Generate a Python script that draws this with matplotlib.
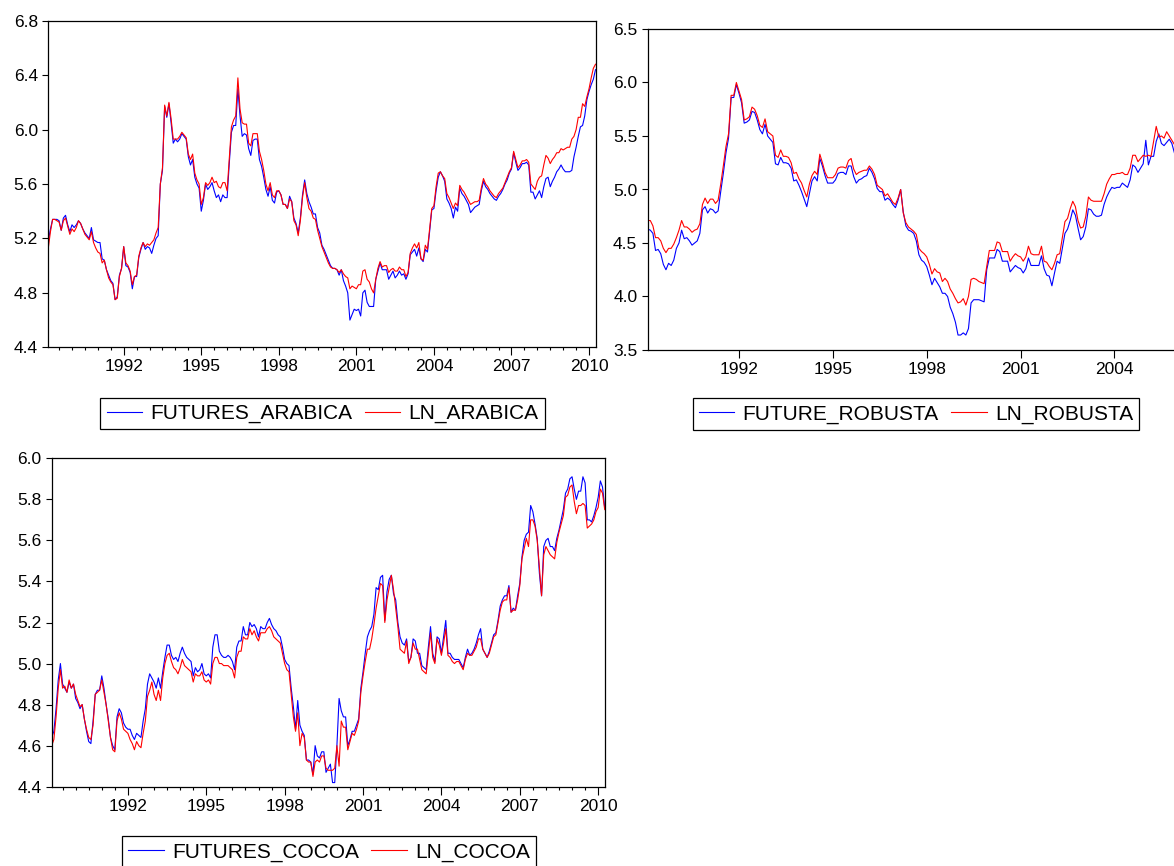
import numpy as np
import matplotlib
matplotlib.use("Agg")
import matplotlib.pyplot as plt
from matplotlib.ticker import MultipleLocator, FormatStrFormatter

plt.rcParams["font.family"] = ["Liberation Sans", "DejaVu Sans"]

# monthly observations, first one is 1989M02
START = 1989 + 1 / 12.0

futures_arabica = [
    5.18, 5.27, 5.34, 5.34, 5.34, 5.33, 5.26, 5.35, 5.37, 5.30, 5.25, 5.30,
    5.28, 5.30, 5.33, 5.31, 5.27, 5.24, 5.22, 5.20, 5.28, 5.19, 5.18, 5.17,
    5.17, 5.05, 5.04, 4.97, 4.93, 4.89, 4.87, 4.75, 4.77, 4.93, 4.98, 5.14,
    5.00, 4.99, 4.95, 4.83, 4.92, 4.92, 5.06, 5.12, 5.17, 5.12, 5.14, 5.13,
    5.09, 5.15, 5.20, 5.22, 5.60, 5.70, 6.17, 6.09, 6.19, 6.05, 5.90, 5.93,
    5.91, 5.93, 5.97, 5.95, 5.93, 5.80, 5.74, 5.78, 5.65, 5.60, 5.57, 5.40,
    5.48, 5.60, 5.56, 5.58, 5.61, 5.55, 5.50, 5.52, 5.47, 5.52, 5.50, 5.50,
    5.75, 5.98, 6.03, 6.03, 6.30, 6.10, 5.95, 5.97, 5.96, 5.86, 5.81, 5.92,
    5.93, 5.93, 5.78, 5.73, 5.65, 5.56, 5.51, 5.58, 5.48, 5.46, 5.54, 5.55,
    5.52, 5.45, 5.45, 5.42, 5.51, 5.47, 5.35, 5.31, 5.24, 5.35, 5.52, 5.63,
    5.53, 5.47, 5.43, 5.38, 5.38, 5.28, 5.24, 5.15, 5.12, 5.08, 5.04, 5.00,
    4.98, 4.98, 4.97, 4.93, 4.97, 4.89, 4.85, 4.80, 4.60, 4.64, 4.68, 4.67,
    4.68, 4.63, 4.80, 4.82, 4.73, 4.70, 4.70, 4.70, 4.90, 4.96, 5.02, 4.97,
    4.97, 4.97, 4.90, 4.93, 4.96, 4.91, 4.93, 4.96, 4.93, 4.94, 4.90, 4.94,
    5.08, 5.10, 5.12, 5.07, 5.13, 5.05, 5.03, 5.12, 5.10, 5.25, 5.41, 5.42,
    5.55, 5.65, 5.69, 5.66, 5.62, 5.49, 5.46, 5.42, 5.35, 5.43, 5.40, 5.57,
    5.53, 5.51, 5.48, 5.45, 5.39, 5.41, 5.43, 5.44, 5.45, 5.55, 5.62, 5.58,
    5.56, 5.53, 5.51, 5.49, 5.48, 5.51, 5.53, 5.56, 5.60, 5.63, 5.68, 5.71,
    5.83, 5.76, 5.70, 5.72, 5.75, 5.75, 5.76, 5.74, 5.54, 5.54, 5.49, 5.52,
    5.55, 5.50, 5.58, 5.64, 5.65, 5.58, 5.62, 5.65, 5.69, 5.71, 5.74, 5.71,
    5.69, 5.69, 5.69, 5.70, 5.80, 5.87, 5.95, 6.02, 6.03, 6.10, 6.22, 6.28,
    6.33, 6.37, 6.44,
]
ln_arabica = [
    5.13, 5.25, 5.34, 5.34, 5.33, 5.32, 5.26, 5.33, 5.35, 5.29, 5.23, 5.27,
    5.25, 5.28, 5.33, 5.31, 5.27, 5.23, 5.21, 5.19, 5.25, 5.17, 5.13, 5.10,
    5.09, 5.02, 5.04, 4.97, 4.91, 4.88, 4.86, 4.75, 4.76, 4.92, 4.98, 5.14,
    5.02, 5.00, 4.96, 4.86, 4.92, 4.93, 5.07, 5.13, 5.17, 5.14, 5.16, 5.15,
    5.17, 5.19, 5.24, 5.28, 5.60, 5.72, 6.18, 6.10, 6.20, 6.08, 5.93, 5.93,
    5.93, 5.95, 5.98, 5.96, 5.94, 5.82, 5.78, 5.82, 5.68, 5.63, 5.60, 5.45,
    5.50, 5.61, 5.59, 5.61, 5.65, 5.61, 5.62, 5.58, 5.57, 5.61, 5.61, 5.55,
    5.78, 6.02, 6.07, 6.10, 6.38, 6.15, 6.05, 6.04, 6.04, 5.90, 5.88, 5.97,
    5.97, 5.97, 5.84, 5.78, 5.70, 5.60, 5.55, 5.61, 5.52, 5.50, 5.55, 5.55,
    5.52, 5.45, 5.45, 5.42, 5.49, 5.47, 5.33, 5.30, 5.22, 5.33, 5.50, 5.61,
    5.50, 5.42, 5.40, 5.35, 5.34, 5.26, 5.20, 5.14, 5.10, 5.06, 5.02, 4.99,
    4.98, 4.98, 4.97, 4.95, 4.97, 4.94, 4.92, 4.91, 4.83, 4.85, 4.84, 4.83,
    4.86, 4.86, 4.96, 4.97, 4.90, 4.88, 4.83, 4.80, 4.90, 4.98, 5.03, 4.99,
    5.00, 5.00, 4.95, 4.97, 4.98, 4.96, 4.96, 4.99, 4.97, 4.97, 4.92, 4.95,
    5.09, 5.13, 5.16, 5.13, 5.17, 5.05, 5.04, 5.15, 5.12, 5.27, 5.42, 5.44,
    5.58, 5.68, 5.69, 5.66, 5.64, 5.53, 5.50, 5.46, 5.42, 5.46, 5.44, 5.59,
    5.56, 5.54, 5.51, 5.48, 5.45, 5.46, 5.47, 5.47, 5.48, 5.57, 5.64, 5.60,
    5.58, 5.55, 5.53, 5.51, 5.50, 5.53, 5.55, 5.57, 5.61, 5.65, 5.69, 5.72,
    5.84, 5.78, 5.72, 5.74, 5.77, 5.77, 5.78, 5.76, 5.60, 5.58, 5.56, 5.62,
    5.65, 5.66, 5.74, 5.81, 5.79, 5.75, 5.78, 5.80, 5.83, 5.83, 5.86, 5.85,
    5.86, 5.87, 5.87, 5.93, 5.95, 6.00, 6.09, 6.09, 6.19, 6.17, 6.24, 6.30,
    6.38, 6.45, 6.48,
]

future_robusta = [
    4.63, 4.62, 4.59, 4.43, 4.44, 4.40, 4.30, 4.25, 4.31, 4.29, 4.34, 4.45,
    4.50, 4.62, 4.54, 4.55, 4.52, 4.48, 4.50, 4.52, 4.59, 4.81, 4.84, 4.78,
    4.82, 4.81, 4.78, 4.80, 4.98, 5.15, 5.34, 5.48, 5.86, 5.86, 5.98, 5.90,
    5.81, 5.62, 5.63, 5.65, 5.73, 5.72, 5.65, 5.56, 5.52, 5.61, 5.50, 5.47,
    5.44, 5.24, 5.23, 5.30, 5.25, 5.25, 5.24, 5.20, 5.08, 5.09, 5.04, 4.98,
    4.91, 4.84, 4.96, 5.08, 5.12, 5.08, 5.29, 5.22, 5.13, 5.06, 5.06, 5.06,
    5.09, 5.15, 5.16, 5.16, 5.14, 5.22, 5.22, 5.12, 5.06, 5.09, 5.10, 5.12,
    5.13, 5.20, 5.16, 5.10, 5.01, 4.98, 4.98, 4.90, 4.92, 4.90, 4.86, 4.83,
    4.90, 5.00, 4.79, 4.66, 4.62, 4.61, 4.59, 4.52, 4.39, 4.34, 4.32, 4.28,
    4.20, 4.11, 4.17, 4.13, 4.09, 4.03, 4.03, 4.00, 3.90, 3.84, 3.76, 3.64,
    3.64, 3.66, 3.64, 3.70, 3.94, 3.97, 3.97, 3.97, 3.96, 3.95, 4.25, 4.36,
    4.36, 4.36, 4.44, 4.42, 4.33, 4.33, 4.33, 4.23, 4.26, 4.29, 4.27, 4.26,
    4.22, 4.26, 4.36, 4.29, 4.29, 4.29, 4.29, 4.38, 4.26, 4.20, 4.19, 4.10,
    4.22, 4.33, 4.31, 4.45, 4.59, 4.63, 4.71, 4.81, 4.76, 4.64, 4.53, 4.56,
    4.65, 4.82, 4.81, 4.77, 4.75, 4.75, 4.76, 4.86, 4.93, 4.98, 5.02, 5.01,
    5.02, 5.02, 5.06, 5.04, 5.02, 5.09, 5.23, 5.21, 5.16, 5.20, 5.24, 5.46,
    5.23, 5.31, 5.31, 5.45, 5.52, 5.43, 5.41, 5.44, 5.47, 5.43, 5.34,
]
ln_robusta = [
    4.71, 4.71, 4.66, 4.55, 4.55, 4.52, 4.45, 4.41, 4.45, 4.45, 4.49, 4.55,
    4.62, 4.71, 4.65, 4.65, 4.63, 4.60, 4.62, 4.63, 4.68, 4.86, 4.92, 4.87,
    4.91, 4.91, 4.87, 4.90, 5.05, 5.22, 5.40, 5.52, 5.88, 5.88, 6.00, 5.92,
    5.84, 5.65, 5.66, 5.68, 5.77, 5.75, 5.69, 5.60, 5.58, 5.66, 5.54, 5.52,
    5.50, 5.32, 5.30, 5.37, 5.31, 5.31, 5.30, 5.25, 5.15, 5.16, 5.10, 5.06,
    4.99, 4.93, 5.05, 5.13, 5.17, 5.14, 5.33, 5.25, 5.16, 5.11, 5.11, 5.11,
    5.14, 5.20, 5.21, 5.21, 5.20, 5.27, 5.29, 5.19, 5.14, 5.16, 5.17, 5.18,
    5.18, 5.22, 5.19, 5.14, 5.04, 5.02, 5.00, 4.94, 4.96, 4.92, 4.88, 4.86,
    4.92, 5.00, 4.78, 4.69, 4.65, 4.63, 4.61, 4.58, 4.45, 4.42, 4.40, 4.37,
    4.30, 4.21, 4.26, 4.23, 4.22, 4.14, 4.17, 4.14, 4.07, 4.03, 3.98, 3.94,
    3.95, 3.98, 3.92, 4.00, 4.16, 4.17, 4.16, 4.14, 4.13, 4.12, 4.28, 4.43,
    4.43, 4.43, 4.51, 4.50, 4.42, 4.42, 4.42, 4.33, 4.37, 4.40, 4.38, 4.37,
    4.33, 4.37, 4.47, 4.40, 4.39, 4.39, 4.39, 4.47, 4.33, 4.32, 4.28, 4.25,
    4.31, 4.39, 4.40, 4.55, 4.70, 4.73, 4.82, 4.89, 4.84, 4.71, 4.64, 4.65,
    4.75, 4.93, 4.90, 4.89, 4.89, 4.89, 4.89, 4.96, 5.05, 5.10, 5.14, 5.14,
    5.15, 5.15, 5.16, 5.14, 5.14, 5.20, 5.32, 5.32, 5.26, 5.29, 5.32, 5.31,
    5.32, 5.31, 5.45, 5.59, 5.49, 5.50, 5.48, 5.54, 5.50, 5.46, 5.42,
]

futures_cocoa = [
    4.64, 4.67, 4.78, 4.92, 5.00, 4.90, 4.88, 4.86, 4.91, 4.88, 4.90, 4.83,
    4.81, 4.78, 4.80, 4.73, 4.67, 4.62, 4.61, 4.72, 4.85, 4.87, 4.87, 4.94,
    4.88, 4.80, 4.73, 4.64, 4.60, 4.58, 4.74, 4.78, 4.76, 4.71, 4.69, 4.68,
    4.68, 4.65, 4.63, 4.66, 4.65, 4.64, 4.72, 4.78, 4.90, 4.95, 4.93, 4.91,
    4.88, 4.93, 4.88, 4.96, 5.03, 5.09, 5.09, 5.04, 5.02, 5.03, 5.01, 5.05,
    5.08, 5.05, 5.03, 5.02, 5.01, 4.94, 4.98, 4.96, 4.97, 5.00, 4.95, 4.94,
    4.95, 4.93, 5.08, 5.14, 5.14, 5.06, 5.04, 5.03, 5.03, 5.04, 5.03, 5.01,
    4.97, 5.08, 5.11, 5.11, 5.18, 5.14, 5.14, 5.20, 5.18, 5.19, 5.17, 5.13,
    5.18, 5.17, 5.17, 5.20, 5.22, 5.19, 5.17, 5.16, 5.14, 5.13, 5.08, 5.02,
    5.00, 4.99, 4.88, 4.79, 4.68, 4.82, 4.70, 4.67, 4.65, 4.53, 4.53, 4.52,
    4.46, 4.60, 4.55, 4.54, 4.57, 4.57, 4.47, 4.49, 4.51, 4.42, 4.42, 4.60,
    4.83, 4.77, 4.74, 4.74, 4.60, 4.63, 4.67, 4.67, 4.70, 4.73, 4.88, 4.96,
    5.05, 5.13, 5.16, 5.18, 5.24, 5.37, 5.36, 5.42, 5.43, 5.21, 5.35, 5.41,
    5.43, 5.34, 5.31, 5.20, 5.13, 5.10, 5.09, 5.12, 5.01, 5.03, 5.12, 5.11,
    5.05, 5.05, 4.99, 4.98, 4.97, 5.08, 5.18, 5.05, 5.01, 5.13, 5.12, 5.05,
    5.13, 5.21, 5.05, 5.05, 5.03, 5.02, 5.02, 5.02, 5.00, 4.98, 5.03, 5.07,
    5.04, 5.05, 5.07, 5.10, 5.14, 5.17, 5.07, 5.05, 5.03, 5.06, 5.10, 5.14,
    5.15, 5.21, 5.28, 5.31, 5.33, 5.33, 5.38, 5.25, 5.27, 5.26, 5.33, 5.39,
    5.52, 5.60, 5.63, 5.64, 5.77, 5.74, 5.68, 5.61, 5.44, 5.33, 5.57, 5.60,
    5.61, 5.57, 5.57, 5.55, 5.61, 5.65, 5.70, 5.75, 5.83, 5.85, 5.90, 5.91,
    5.85, 5.80, 5.84, 5.84, 5.91, 5.88, 5.70, 5.70, 5.69, 5.72, 5.76, 5.81,
    5.89, 5.86, 5.76,
]
ln_cocoa = [
    4.60, 4.63, 4.74, 4.88, 4.97, 4.88, 4.89, 4.86, 4.92, 4.88, 4.90, 4.85,
    4.82, 4.79, 4.80, 4.73, 4.68, 4.64, 4.63, 4.70, 4.85, 4.86, 4.87, 4.92,
    4.86, 4.80, 4.72, 4.64, 4.58, 4.57, 4.72, 4.76, 4.73, 4.68, 4.67, 4.66,
    4.63, 4.61, 4.58, 4.62, 4.60, 4.59, 4.66, 4.72, 4.84, 4.87, 4.91, 4.85,
    4.82, 4.87, 4.82, 4.93, 5.00, 5.04, 5.05, 5.01, 4.98, 4.97, 4.95, 4.98,
    5.02, 4.99, 4.98, 4.97, 4.96, 4.91, 4.95, 4.94, 4.94, 4.96, 4.92, 4.91,
    4.92, 4.90, 5.00, 5.03, 5.03, 5.00, 5.00, 4.99, 4.99, 4.99, 4.98, 4.97,
    4.93, 5.03, 5.06, 5.06, 5.13, 5.12, 5.12, 5.17, 5.14, 5.16, 5.13, 5.11,
    5.15, 5.15, 5.15, 5.17, 5.18, 5.16, 5.13, 5.12, 5.11, 5.10, 5.05, 5.00,
    4.97, 4.96, 4.85, 4.74, 4.67, 4.76, 4.60, 4.66, 4.64, 4.53, 4.52, 4.52,
    4.45, 4.52, 4.53, 4.52, 4.55, 4.55, 4.49, 4.48, 4.48, 4.48, 4.49, 4.60,
    4.50, 4.72, 4.69, 4.69, 4.58, 4.62, 4.66, 4.65, 4.68, 4.72, 4.86, 4.94,
    5.01, 5.07, 5.07, 5.12, 5.19, 5.27, 5.33, 5.39, 5.38, 5.20, 5.31, 5.37,
    5.43, 5.36, 5.27, 5.18, 5.07, 5.06, 5.05, 5.11, 5.00, 5.03, 5.10, 5.07,
    5.07, 5.02, 4.97, 4.96, 4.95, 5.05, 5.15, 5.03, 5.00, 5.12, 5.09, 5.04,
    5.10, 5.17, 5.04, 5.03, 5.01, 5.00, 5.01, 5.01, 4.99, 4.97, 5.02, 5.05,
    5.04, 5.04, 5.06, 5.08, 5.12, 5.12, 5.07, 5.05, 5.03, 5.05, 5.09, 5.13,
    5.14, 5.20, 5.26, 5.30, 5.31, 5.31, 5.37, 5.25, 5.26, 5.26, 5.31, 5.38,
    5.51, 5.56, 5.61, 5.57, 5.70, 5.70, 5.67, 5.60, 5.47, 5.33, 5.53, 5.57,
    5.55, 5.53, 5.52, 5.51, 5.59, 5.64, 5.68, 5.72, 5.81, 5.82, 5.86, 5.87,
    5.79, 5.73, 5.77, 5.77, 5.78, 5.77, 5.66, 5.67, 5.68, 5.70, 5.74, 5.76,
    5.85, 5.83, 5.75,
]

year_ticks = [1992, 1995, 1998, 2001, 2004, 2007, 2010]

W, H = 1174, 866
fig = plt.figure(figsize=(W / 100, H / 100), dpi=100)


def box(left, top, right, bottom):
    # pixel box -> figure fraction
    return [left / W, 1 - bottom / H, (right - left) / W, (bottom - top) / H]


def months(values):
    return START + np.arange(len(values)) / 12.0


def panel(rect, blue, red, names, ylim, ystep, n_obs, minor, legend_at):
    ax = fig.add_axes(box(*rect))
    ax.plot(months(blue), blue, color="#0000ff", lw=0.8, label=names[0])
    ax.plot(months(red), red, color="#ff0000", lw=0.8, label=names[1])
    ax.yaxis.set_major_locator(MultipleLocator(ystep))
    ax.yaxis.set_major_formatter(FormatStrFormatter("%.1f"))
    ax.set_xticks(year_ticks)
    ax.set_xticklabels([str(y) for y in year_ticks])
    if minor:
        ax.xaxis.set_minor_locator(MultipleLocator(0.5))
    # limits after the ticks, set_xticks widens the view otherwise
    ax.set_xlim(START, START + (n_obs - 1) / 12.0)
    ax.set_ylim(*ylim)
    ax.tick_params(axis="x", which="major", direction="out", length=5.5, width=0.8,
                   pad=3, labelsize=12.5)
    ax.tick_params(axis="x", which="minor", direction="out", length=2.5, width=0.8)
    ax.tick_params(axis="y", direction="out", length=4.5, width=0.8, pad=3,
                   labelsize=12.5)
    for s in ax.spines.values():
        s.set_linewidth(0.9)
    leg = ax.legend(loc="center", ncol=2, fontsize=15, frameon=True, fancybox=False,
                    edgecolor="black", framealpha=1, handlelength=1.7,
                    handletextpad=0.4, columnspacing=0.6, borderpad=0.3,
                    bbox_to_anchor=(legend_at[0] / W, 1 - legend_at[1] / H),
                    bbox_transform=fig.transFigure)
    leg.get_frame().set_linewidth(0.9)
    return ax


panel((48.3, 20.7, 595.5, 347.3), futures_arabica, ln_arabica,
      ("FUTURES_ARABICA", "LN_ARABICA"), (4.4, 6.8), 0.4, 255, True, (322.5, 413.5))
panel((647.7, 29.0, 1182.3, 350.0), future_robusta, ln_robusta,
      ("FUTURE_ROBUSTA", "LN_ROBUSTA"), (3.5, 6.5), 0.5, 206, False, (916, 414))
panel((51.7, 458.3, 604.7, 786.7), futures_cocoa, ln_cocoa,
      ("FUTURES_COCOA", "LN_COCOA"), (4.4, 6.0), 0.2, 255, True, (329, 852))

fig.savefig("out.png", dpi=100)
